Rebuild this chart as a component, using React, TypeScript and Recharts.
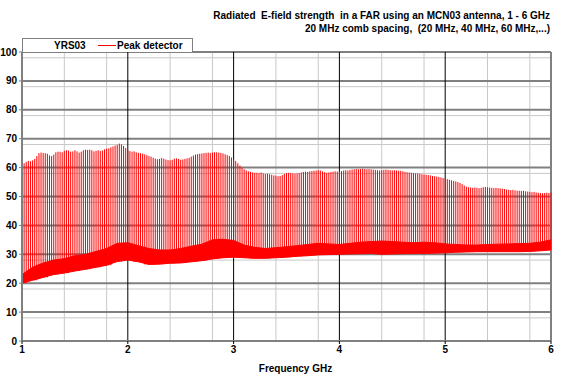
import { Area, CartesianGrid, ComposedChart, Line, XAxis, YAxis } from 'recharts'

const FONT = '"Liberation Sans", Arial, sans-serif'
const RED = '#ff0000'
const GRID_MINOR = '#c8c8c8'
const GRID_MAJOR = '#808080'

const TITLE_LINES = [
  'Radiated  E-field strength  in a FAR using an MCN03 antenna, 1 - 6 GHz',
  '20 MHz comb spacing,  (20 MHz, 40 MHz, 60 MHz,...)',
]
const SERIES_NAME = 'YRS03'
const LEGEND_LABEL = 'Peak detector'
const X_LABEL = 'Frequency  GHz'

const X_TICKS = [1, 2, 3, 4, 5, 6]
const X_MINOR = [1.2, 1.4, 1.6, 1.8, 2.2, 2.4, 2.6, 2.8, 3.2, 3.4, 3.6, 3.8, 4.2, 4.4, 4.6, 4.8, 5.2, 5.4, 5.6, 5.8]
const Y_TICKS = [0, 10, 20, 30, 40, 50, 60, 70, 80, 90, 100]
const Y_MINOR = [
  2, 4, 6, 8, 12, 14, 16, 18, 22, 24, 26, 28, 32, 34, 36, 38, 42, 44, 46, 48,
  52, 54, 56, 58, 62, 64, 66, 68, 72, 74, 76, 78, 82, 84, 86, 88, 92, 94, 96, 98,
]

// comb lines, 20 MHz apart from 1 GHz
const COMB_START = 1
const COMB_STEP = 0.02
const PEAKS = [
  60, 61.5, 62, 62.3, 62.2, 62.5, 63, 64, 65, 65.2, // 1.0
  65, 65, 64.8, 64.2, 64, 64.5, 65.3, 65.5, 65.5, 65.3,
  65.8, 66, 65.9, 65.5, 65.6, 66, 65.6, 65.2, 65.5, 66,
  66.2, 66.1, 66.2, 66, 65.6, 65.8, 66, 65.7, 65.9, 66.3,
  66.5, 66.7, 67, 67.3, 67.6, 67.9, 68.3, 68, 67.5, 66.8,
  66, 65.7, 65.5, 65.6, 65.3, 65.1, 65, 64.8, 64.6, 64.3, // 2.0
  64, 63.8, 63.4, 63.1, 62.9, 63, 63.3, 63.1, 62.8, 62.6,
  62.5, 62.7, 63.1, 63.2, 63, 62.7, 62.8, 63, 63.2, 63.4,
  63.8, 64.2, 64.5, 64.7, 64.8, 64.9, 65, 65.1, 65.2, 65,
  65.2, 65.3, 65.3, 65.2, 65.1, 64.9, 64.6, 64.3, 64, 63.5,
  63, 62.3, 61.5, 60.7, 60, 59.4, 59, 58.7, 58.5, 58.3, // 3.0
  58.2, 58.2, 58.1, 58.3, 58, 57.8, 57.9, 57.7, 57.5, 57.3,
  57.2, 57, 57.1, 57.4, 57.8, 58.1, 58.2, 58.1, 58, 57.9,
  58, 58.1, 58.3, 58.5, 58.6, 58.5, 58.7, 58.8, 58.9, 59,
  59.1, 59, 58.7, 58.4, 58.2, 58.3, 58.5, 58.6, 58.7, 58.6,
  58.7, 58.8, 59, 59.1, 59, 59.2, 59.3, 59.4, 59.5, 59.4, // 4.0
  59.5, 59.6, 59.5, 59.4, 59.5, 59.4, 59.3, 59.2, 59.1, 59,
  59.1, 59.2, 59.3, 59.2, 59.1, 59, 59.1, 59, 58.9, 58.9,
  58.7, 58.5, 58.4, 58.3, 58.2, 58.1, 58, 58, 57.9, 57.7,
  57.6, 57.5, 57.4, 57.3, 57.1, 57, 56.9, 56.8, 56.6, 56.4,
  56.2, 56, 55.8, 55.6, 55.4, 55.2, 55, 54.7, 54.3, 53.8, // 5.0
  53.4, 53.2, 53.1, 53, 53.1, 53, 52.9, 53, 53.2, 53.3,
  53.2, 53.1, 53, 52.9, 53, 52.9, 52.8, 52.7, 52.6, 52.4,
  52.3, 52.2, 52.3, 52.1, 52, 52, 51.9, 52, 51.8, 51.7,
  51.6, 51.5, 51.6, 51.4, 51.3, 51.2, 51.1, 51.2, 51.3, 51.2,
  51.4, // 6.0
]

// noise floor band, every 100 MHz
const FLOOR_STEP = 0.1
const FLOOR_LOW = [
  20, 21, 22, 23, 23.5, 24.2, 24.8, 25.5, 26.2, 27.5,
  28, 27.4, 26.5, 26.6, 26.9, 27, 27.4, 27.8, 28.4, 28.8,
  29, 28.8, 28.6, 28.6, 28.8, 29, 29.3, 29.5, 29.8, 29.9,
  30, 30.1, 30.2, 30.3, 30, 30.1, 30.2, 30.3, 30.3, 30.4,
  30.5, 30.7, 30.8, 30.9, 30.9, 30.9, 30.9, 30.9, 31, 31.2,
  31.5,
]
const FLOOR_HIGH = [
  23, 25.5, 27, 28, 28.5, 29.5, 30, 31, 32, 33.8,
  34, 33, 32, 31.5, 31.5, 32, 32.8, 33.5, 35, 35.2,
  34.8, 33.2, 32.4, 32, 32.3, 32.6, 33, 33.4, 33.8, 33.6,
  33.4, 33.8, 34.2, 34.4, 34.6, 34.4, 34.2, 34, 34.2, 34,
  33.6, 33.4, 33.2, 33.2, 33.4, 33.5, 33.6, 33.7, 33.8, 34.2,
  35,
]

const combRows = PEAKS.flatMap((peak, i) => {
  const f = +(COMB_START + i * COMB_STEP).toFixed(3)
  const base = FLOOR_LOW[Math.round(i / 5)]
  return [
    { f, v: base },
    { f, v: peak },
    { f, v: null },
  ]
})

const floorRows = FLOOR_LOW.map((lo, i) => ({
  f: +(COMB_START + i * FLOOR_STEP).toFixed(2),
  band: [lo, FLOOR_HIGH[i]],
}))

const tick = { fill: '#000', fontSize: 10, fontWeight: 700, fontFamily: FONT }

export default function App() {
  return (
    <div style={{ position: 'absolute', left: 0, top: 0, width: 570, height: 380, background: '#fff', fontFamily: FONT }}>
      <div
        style={{
          position: 'absolute',
          right: 20,
          top: 9,
          textAlign: 'right',
          fontSize: 10,
          fontWeight: 700,
          lineHeight: '13px',
          whiteSpace: 'pre',
        }}
      >
        {TITLE_LINES.map((t) => (
          <div key={t}>{t}</div>
        ))}
      </div>

      <ComposedChart width={570} height={380} margin={{ top: 52, right: 19, left: 0, bottom: 0 }}>
        <CartesianGrid stroke={GRID_MINOR} strokeWidth={1} horizontalValues={Y_MINOR} verticalValues={X_MINOR} />
        <CartesianGrid stroke={GRID_MAJOR} strokeWidth={2} horizontalValues={Y_TICKS} vertical={false} />
        <CartesianGrid stroke="#000" strokeWidth={1} verticalValues={[2, 3, 4, 5]} horizontal={false} />
        <CartesianGrid stroke={GRID_MAJOR} strokeWidth={2} verticalValues={[6]} horizontal={false} />
        <XAxis
          dataKey="f"
          type="number"
          domain={[1, 6]}
          ticks={X_TICKS}
          allowDuplicatedCategory
          height={39}
          tick={tick}
          tickSize={3}
          tickLine={{ stroke: '#000' }}
          axisLine={{ stroke: GRID_MAJOR, strokeWidth: 2 }}
          label={{ value: X_LABEL, position: 'insideBottom', offset: 8, dx: 9, style: { ...tick, whiteSpace: 'pre' } }}
        />
        <YAxis
          type="number"
          domain={[0, 100]}
          ticks={Y_TICKS}
          width={22}
          tick={tick}
          tickSize={3}
          tickLine={{ stroke: GRID_MAJOR }}
          axisLine={{ stroke: GRID_MAJOR, strokeWidth: 2 }}
        />
        <Area
          data={floorRows}
          dataKey="band"
          type="linear"
          stroke={RED}
          strokeWidth={1}
          fill={RED}
          fillOpacity={1}
          isAnimationActive={false}
          dot={false}
          activeDot={false}
        />
        <Line
          data={combRows}
          dataKey="v"
          type="linear"
          stroke={RED}
          strokeWidth={1}
          dot={false}
          activeDot={false}
          isAnimationActive={false}
        />
      </ComposedChart>

      <div
        style={{
          position: 'absolute',
          left: 22,
          top: 38,
          width: 171,
          height: 14,
          boxSizing: 'border-box',
          borderTop: `1px solid ${GRID_MAJOR}`,
          borderRight: `1px solid ${GRID_MAJOR}`,
          borderLeft: `1px solid ${GRID_MAJOR}`,
          background: '#fff',
          fontSize: 10,
          fontWeight: 700,
          display: 'flex',
          alignItems: 'center',
        }}
      >
        <span style={{ position: 'absolute', left: 31 }}>{SERIES_NAME}</span>
        <span style={{ position: 'absolute', left: 75, top: 6, width: 18, height: 1, background: RED }} />
        <span style={{ position: 'absolute', left: 94 }}>{LEGEND_LABEL}</span>
      </div>
    </div>
  )
}
